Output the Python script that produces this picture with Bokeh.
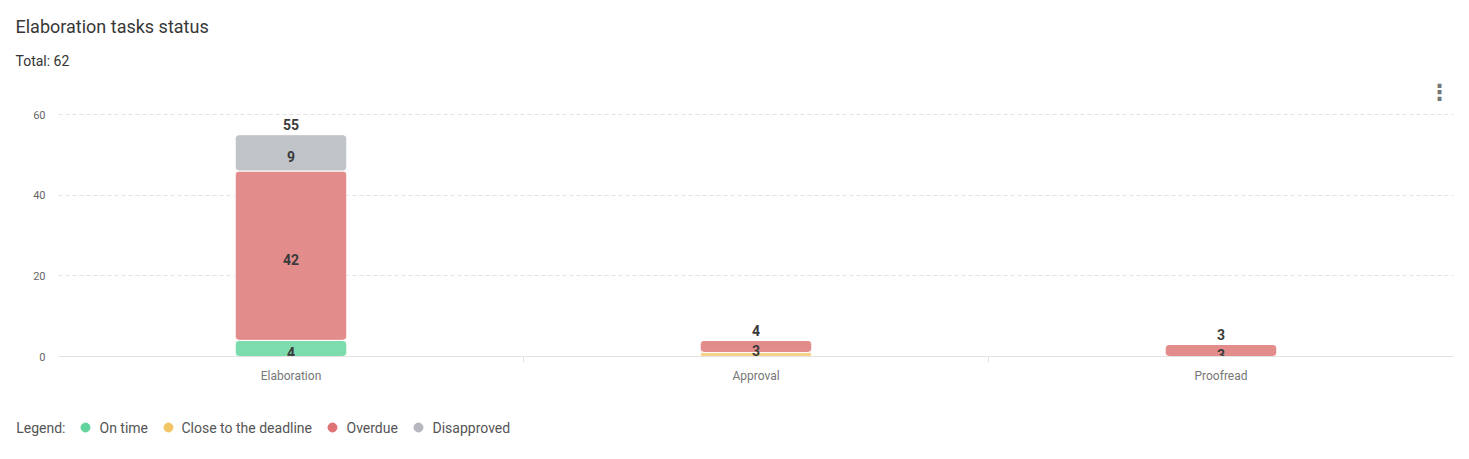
from bokeh.plotting import figure
from bokeh.models import (ColumnDataSource, FactorRange, Range1d, CategoricalAxis,
                          FixedTicker, Label, Title)
from bokeh.layouts import column
from bokeh.core.properties import value
from bokeh.embed import file_html
from bokeh.resources import INLINE

# ---------------- data ----------------
categories = ["Elaboration", "Approval", "Proofread"]
statuses = ["On time", "Close to the deadline", "Overdue", "Disapproved"]
on_time = [4, 0, 0]
close_to_deadline = [0, 1, 0]
overdue = [42, 3, 3]
disapproved = [9, 0, 0]
y_ticks = [0, 20, 40, 60]
title_text = "Elaboration tasks status"
total_text = "Total: 62"
legend_title = "Legend:"

bar_colors = ["#7ddcae", "#f6d389", "#e28c8c", "#c0c3c8"]
dot_colors = ["#62d39b", "#f4c567", "#df7373", "#b5b7be"]
FONT = "Roboto"

series = [on_time, close_to_deadline, overdue, disapproved]
keys = ["s0", "s1", "s2", "s3"]
src = ColumnDataSource(dict(cat=categories, **{k: v for k, v in zip(keys, series)}))

# segment labels (centre of each segment large enough to hold text)
lab_x, lab_y, lab_t = [], [], []
tot_x, tot_y, tot_t = [], [], []
for i, c in enumerate(categories):
    bottom = 0
    for s in series:
        v = s[i]
        if v >= 2:
            lab_x.append(c); lab_y.append(bottom + v / 2); lab_t.append(str(v))
        bottom += v
    tot_x.append(c); tot_y.append(bottom); tot_t.append(str(bottom))

# ---------------- main figure ----------------
p = figure(x_range=FactorRange(*categories, range_padding=0), y_range=Range1d(0, 68.93),
           width=1469, height=408, output_backend="svg", toolbar_location=None,
           x_axis_location=None, title=None,
           min_border_left=58, min_border_right=16, min_border_top=78, min_border_bottom=52)
p.outline_line_color = None
p.background_fill_color = "white"
p.border_fill_color = "white"
p.xgrid.visible = False
p.ygrid.ticker = FixedTicker(ticks=y_ticks[1:])
p.ygrid.grid_line_color = "#e3e3e3"
p.ygrid.grid_line_dash = "4 3"

ya = p.yaxis[0]
ya.ticker = FixedTicker(ticks=y_ticks)
ya.axis_line_color = None
ya.major_tick_line_color = None
ya.minor_tick_line_color = None
ya.major_tick_out = 0
ya.major_tick_in = 0
ya.major_label_standoff = 13
ya.major_label_text_font_size = "11px"
ya.major_label_text_color = "#666666"
ya.major_label_text_font = FONT

# separator ticks at category boundaries: a factor range whose factor centres
# fall exactly on the boundaries of the main categories
bounds = ["b%d" % i for i in range(len(categories) + 1)]
p.extra_x_ranges = {"sep": FactorRange(*bounds, range_padding=-0.5,
                                       range_padding_units="absolute")}
sep_axis = CategoricalAxis(x_range_name="sep",
                           axis_line_color="#e3e3e3", major_tick_line_color="#e3e3e3",
                           major_tick_out=6, major_tick_in=0, minor_tick_line_color=None,
                           major_label_text_font_size="1px", major_label_text_alpha=0,
                           major_label_standoff=0)
p.add_layout(sep_axis, "below")
cat_axis = CategoricalAxis(axis_line_color=None, major_tick_line_color=None,
                           minor_tick_line_color=None, major_tick_out=0, major_tick_in=0,
                           major_label_standoff=6, major_label_text_font_size="12px",
                           major_label_text_color="#777777", major_label_text_font=FONT)
p.add_layout(cat_axis, "below")

p.vbar_stack(keys, x="cat", width=0.24, color=bar_colors, source=src,
             line_color="white", line_width=1, border_radius=4)

p.text(x=lab_x, y=lab_y, text=lab_t, text_align="center", text_baseline="middle",
       y_offset=4, text_font=value(FONT), text_font_style="bold",
       text_font_size="14px", text_color="#3a3a3a")
p.text(x=tot_x, y=tot_y, text=tot_t, text_align="center", text_baseline="middle",
       y_offset=-10, text_font=value(FONT), text_font_style="bold",
       text_font_size="14px", text_color="#3a3a3a")

# titles (nearest to the frame first)
p.add_layout(Title(text=total_text, align="left", offset=-43, standoff=19,
                   text_font=FONT, text_font_size="14px", text_font_style="normal",
                   text_color="#333333"), "above")
p.add_layout(Title(text=title_text, align="left", offset=-43, standoff=10,
                   text_font=FONT, text_font_size="18px", text_font_style="normal",
                   text_color="#383838"), "above")

# kebab menu icon
p.add_layout(Label(x=1381, y=264, x_units="screen", y_units="screen", text="⋮",
                   text_font="DejaVu Sans", text_font_size="22px", text_font_style="bold",
                   text_color="#777777", text_baseline="middle", text_align="center"))

# ---------------- legend strip ----------------
ROW = 32
lg = figure(width=1469, height=51, x_range=Range1d(0, 1395), y_range=Range1d(0, 51),
            output_backend="svg", toolbar_location=None, x_axis_location=None,
            min_border_left=58, min_border_right=16, min_border_top=0, min_border_bottom=0)
lg.grid.visible = False
lg.outline_line_color = None
lg.border_fill_color = "white"
la = lg.yaxis[0]
la.ticker = FixedTicker(ticks=[ROW])
la.major_label_overrides = {ROW: legend_title}
la.axis_line_color = None
la.major_tick_line_color = None
la.minor_tick_line_color = None
la.major_tick_out = 0
la.major_tick_in = 0
la.major_label_standoff = -7
la.major_label_text_font = FONT
la.major_label_text_font_size = "14px"
la.major_label_text_color = "#555555"

dot_x = [27, 110, 274, 360]
lbl_x = [41, 123, 288, 374]
lg.scatter(x=dot_x, y=[ROW] * 4, size=9, color=dot_colors, marker="circle")
lg.text(x=lbl_x, y=[ROW] * 4, text=statuses, text_baseline="middle", text_font=value(FONT),
        text_font_size="14px", text_color="#555555")

layout = column(p, lg, spacing=0)
open("out.html", "w").write(file_html(layout, INLINE))
